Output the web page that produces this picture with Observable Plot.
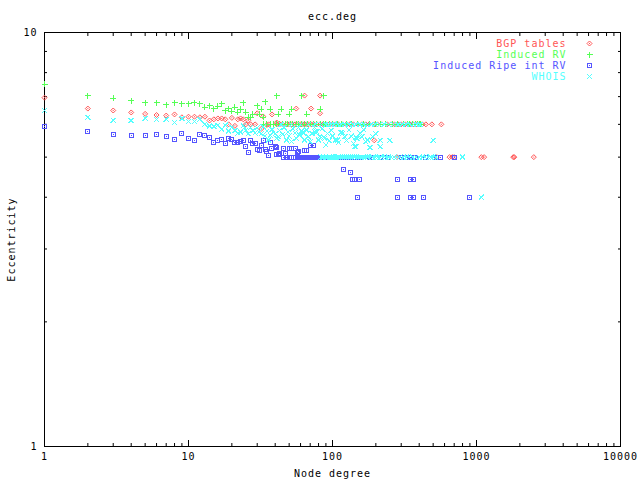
<!DOCTYPE html>
<html>
<head>
<meta charset="utf-8">
<style>html,body{margin:0;padding:0;background:#fff}svg{display:block}svg text{letter-spacing:1px}</style>
<script src="https://cdn.jsdelivr.net/npm/d3@7"></script>
<script src="https://cdn.jsdelivr.net/npm/@observablehq/plot@0.6"></script>
</head>
<body>
<script>
const seriesNames = ["BGP tables", "Induced RV", "Induced Ripe int RV", "WHOIS"];
const seriesColors = ["#ff5555", "#55ff55", "#5555ff", "#55ffff"];

const bgpPoints = [[1,6.96],[2,6.55],[3,6.48],[4,6.41],[5,6.36],[6,6.32],[7,6.30],[8,6.34],[9,6.24],[10,6.26],[11,6.26],[12,6.24],[13,6.26],[14,6.13],[15,6.17],[16,6.2],[17,6.2],[18,6.17],[19,6.0],[20,6.22],[21,5.95],[22,6.17],[23,6.2],[24,6.17],[25,6.0],[26,6.13],[27,6.0],[29,6.0],[30,6.38],[32,5.85],[33,6.27],[35,5.98],[36,6.0],[38,6.34],[41,6.06],[56,6.55],[64,7.04],[71,6.55],[82,7.04],[82,6.38],[195,5.49]];
const bgpRow6 = [41,43,45,48,50,52,55,57,60,62,64,66,68,71,74,78,82,86,90,95,100,105,110,118,125,132,140,150,160,170,180,195,205,220,240,255,270,285,300,320,345,365,385,400,420,445,490,570];
const bgpRow5 = [280,530,650,680,700,1080,1130,1800,1830,2500];

const rvPoints = [[1,7.49],[2,7.04],[3,6.93],[4,6.85],[5,6.77],[6,6.77],[7,6.70],[8,6.77],[9,6.73],[10,6.73],[11,6.77],[12,6.73],[13,6.6],[14,6.66],[15,6.55],[16,6.63],[17,6.73],[18,6.48],[19,6.55],[20,6.45],[21,6.6],[22,6.41],[23,6.52],[24,6.77],[25,6.41],[26,6.24],[27,6.24],[28,6.34],[30,6.66],[31,6.34],[32,6.52],[33,6.24],[34,6.81],[37,6.52],[41,7.04],[42,6.34],[44,6.52],[50,6.34],[52,6.52],[61,7.04],[66,6.34],[82,6.52],[87,7.04]];
const rvRow6 = [33,35,37,39,41,43,45,47,49,51,53,56,58,61,64,67,70,74,78,82,86,90,95,100,108,115,125,135,150,165,180,200,215,235,260,285,310,330,345,360,375,390,400,410];

const ripePoints = [[1,5.92],[2,5.77],[3,5.67],[4,5.63],[5,5.63],[6,5.67],[7,5.6],[8,5.51],[9,5.7],[10,5.54],[11,5.49],[12,5.67],[13,5.63],[14,5.58],[15,5.42],[16,5.49],[17,5.52],[18,5.39],[19,5.55],[20,5.52],[21,5.42],[22,5.42],[23,5.45],[24,5.49],[25,5.3],[26,5.13],[27,5.49],[28,5.39],[29,5.39],[30,5.22],[31,5.19],[32,5.33],[33,5.49],[34,5.22],[35,5.16],[36,5.05],[37,5.42],[38,5.25],[40,5.3],[41,5.27],[41,5.07],[42,5.07],[43,5.1],[46,5.25],[47,5.1],[50,5.25],[52,5.25],[55,5.25],[58,5.16],[57,5.13],[64,5.19],[66,5.19],[70,5.33],[74,5.33],[119,4.66],[133,4.6],[138,4.41],[143,4.41],[155,4.41],[150,4.0],[285,4.41],[350,4.41],[365,4.41],[285,4.0],[350,4.0],[365,4.0],[430,4.0],[890,4.0]];
const ripeRow5 = [46,48,50,52,54,57,58,59,60,61,62,63,64,65,66,67,68,69,70,71,72,73,74,75,76,77,78,79,80,81,82,83,85,92,100,105,112,118,125,132,140,155,180,190,215,240,300,330,350,365,380,440,530,560,700];

const whoisPoints = [[1,6.48],[2,6.24],[3,6.13],[4,6.13],[5,6.2],[6,6.17],[7,6.17],[8,6.06],[9,6.2],[10,6.1],[11,6.1],[12,6.17],[13,6.0],[14,5.94],[15,5.93],[16,5.97],[17,5.84],[18,5.97],[19,5.78],[20,5.9],[21,5.8],[22,5.72],[23,5.75],[24,5.95],[25,5.8],[26,5.7],[27,5.9],[28,5.8],[29,5.72],[30,5.88],[31,5.75],[32,5.7],[33,5.92],[34,5.62],[35,5.78],[36,5.5],[37,5.65],[38,5.83],[40,5.7],[41,5.55],[42,5.6],[43,5.8],[45,5.68],[46,5.9],[48,5.5],[49,5.75],[50,5.62],[52,5.45],[53,5.85],[55,5.72],[56,5.55],[58,5.9],[59,5.65],[61,5.78],[62,5.74],[63,5.72],[64,5.5],[66,5.82],[68,5.6],[70,5.45],[72,5.7],[75,5.9],[76,5.74],[77,5.72],[78,5.76],[80,5.5],[82,5.62],[85,5.85],[87,5.58],[88,5.55],[90,5.35],[92,5.7],[95,5.48],[98,5.8],[100,5.62],[105,5.5],[108,5.49],[110,5.42],[114,5.72],[116,5.74],[118,5.72],[122,5.6],[125,5.48],[130,5.82],[135,5.62],[140,5.4],[143,5.3],[145,5.3],[146,5.58],[148,5.55],[155,5.72],[160,5.6],[165,5.82],[170,5.45],[175,5.5],[182,5.28],[190,5.6],[200,5.7],[214,5.49],[214,5.3],[250,5.49],[183,5.27],[500,5.49],[1080,4.0]];
const whoisRow6 = [44,52,60,68,76,84,90,94,98,103,109,115,122,130,138,146,155,165,175,186,198,212,228,245,265,285,305,325,345,365,385,405];
const whoisRow5 = [83,85,87,89,91,93,95,98,101,104,107,110,113,117,121,125,129,133,137,142,147,152,157,163,169,175,182,190,198,206,215,224,234,245,255,268,280,295,310,325,340,360,380,400,420,440,460,480,500,520,800];

const rows = (degrees, ecc) => degrees.map(d => [d, ecc]);
const series = [
  bgpPoints.concat(rows(bgpRow6, 6), rows(bgpRow5, 5)),
  rvPoints.concat(rows(rvRow6, 6)),
  ripePoints.concat(rows(ripeRow5, 5)),
  whoisPoints.concat(rows(whoisRow6, 6), rows(whoisRow5, 5))
];

const symDiamond = {draw(c){c.moveTo(0,-2.5);c.lineTo(2.5,0);c.lineTo(0,2.5);c.lineTo(-2.5,0);c.closePath();c.moveTo(-.5,0);c.lineTo(.5,0);}};
const symPlus = {draw(c){c.moveTo(-3,0);c.lineTo(3,0);c.moveTo(0,-3);c.lineTo(0,3);}};
const symSquare = {draw(c){c.moveTo(-2,-2);c.lineTo(2,-2);c.lineTo(2,2);c.lineTo(-2,2);c.closePath();c.moveTo(-.5,0);c.lineTo(.5,0);}};
const symTimes = {draw(c){c.moveTo(-2.5,-2.5);c.lineTo(2.5,2.5);c.moveTo(-2.5,2.5);c.lineTo(2.5,-2.5);}};
const symbols = [symDiamond, symPlus, symSquare, symTimes];
const rendering = ["auto", "crispEdges", "crispEdges", "crispEdges"];

const xMajor = [1,10,100,1000,10000];
const xMinor = [2,3,4,5,6,7,8,9,20,30,40,50,60,70,80,90,200,300,400,500,600,700,800,900,2000,3000,4000,5000,6000,7000,8000,9000];
const yMajor = [1,10];
const yMinor = [2,3,4,5,6,7,8,9];
const blank = () => "";
const font = "'DejaVu Sans Mono','Liberation Mono',monospace";

const marks = [Plot.frame({stroke:"#000",strokeWidth:1})];
for (const [anchor, ticks, size] of [["bottom",xMajor,-6],["top",xMajor,-6],["bottom",xMinor,-3],["top",xMinor,-3]]) {
  marks.push(Plot.axisX({anchor, ticks, tickSize:size, tickFormat:blank, label:null, stroke:"#000"}));
}
for (const [anchor, ticks, size] of [["left",yMajor,-6],["right",yMajor,-6],["left",yMinor,-3],["right",yMinor,-3]]) {
  marks.push(Plot.axisY({anchor, ticks, tickSize:size, tickFormat:blank, label:null, stroke:"#000"}));
}
marks.push(Plot.axisX({anchor:"bottom", ticks:xMajor, tickSize:0, tickPadding:6, tickFormat:d=>String(d), label:null, fill:"#000"}));
marks.push(Plot.axisY({anchor:"left", ticks:yMajor, tickSize:0, tickPadding:7, tickFormat:d=>String(d), label:null, fill:"#000"}));

series.forEach((pts,i) => {
  marks.push(Plot.dot(pts, {x:d=>d[0], y:d=>d[1], symbol:()=>symbols[i], r:3, stroke:seriesColors[i], fill:"none", strokeWidth:1, shapeRendering:rendering[i]}));
  marks.push(Plot.text([seriesNames[i]], {frameAnchor:"top-right", dx:-54, dy:11+11*i, text:d=>d, fill:seriesColors[i], textAnchor:"end", lineAnchor:"middle"}));
  marks.push(Plot.dot([seriesNames[i]], {frameAnchor:"top-right", dx:-31, dy:11+11*i, symbol:()=>symbols[i], r:3, stroke:seriesColors[i], fill:"none", strokeWidth:1, shapeRendering:rendering[i]}));
});
marks.push(Plot.text(["ecc.deg"], {frameAnchor:"top", dy:-16, text:d=>d, fill:"#000", lineAnchor:"middle"}));
marks.push(Plot.text(["Node degree"], {frameAnchor:"bottom", dy:27, text:d=>d, fill:"#000", lineAnchor:"middle"}));
marks.push(Plot.text(["Eccentricity"], {frameAnchor:"left", dx:-33, rotate:-90, text:d=>d, fill:"#000", textAnchor:"middle", lineAnchor:"middle"}));

const chart = Plot.plot({
  width:640, height:480,
  marginLeft:44, marginRight:20, marginTop:32, marginBottom:34,
  style:{fontFamily:font, fontSize:"10px", background:"#fff", overflow:"visible"},
  x:{type:"log", domain:[1,10000]},
  y:{type:"log", domain:[1,10]},
  marks
});
document.body.appendChild(chart);
</script>
</body>
</html>
